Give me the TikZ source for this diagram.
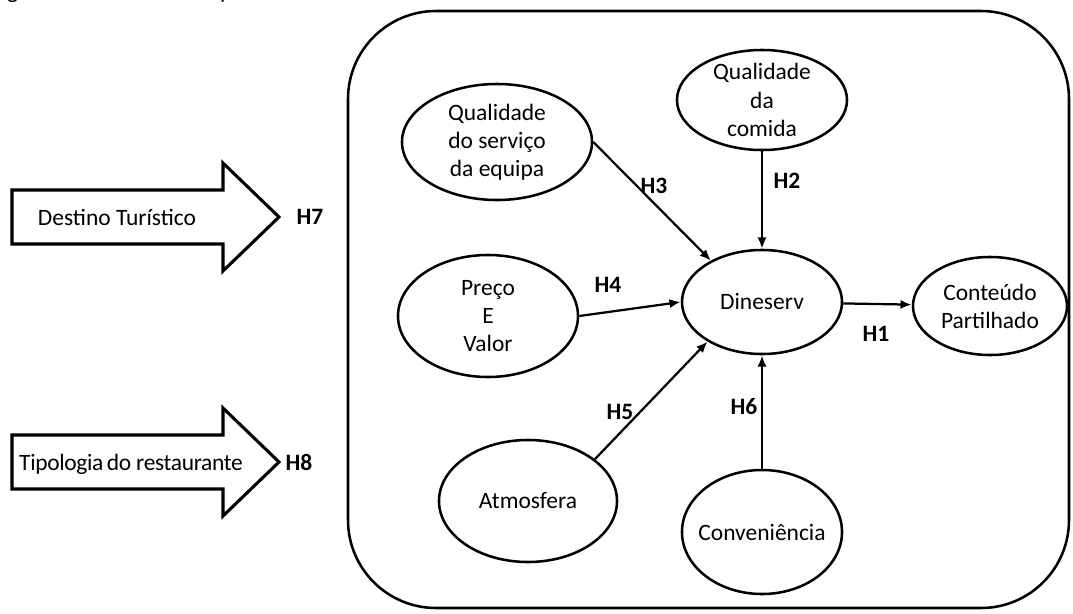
\documentclass[tikz,border=0pt]{standalone}
\usepackage{fontspec}
\setmainfont{Carlito}
\usetikzlibrary{arrows.meta,positioning,shapes.geometric}

\begin{document}
\begin{tikzpicture}[x=0.025cm,y=-0.025cm,>={Latex[length=8pt,width=6.5pt]},every node/.style={font=\fontsize{16.7}{20}\selectfont},
 var/.style={ellipse,draw,line width=1.8pt,inner sep=0pt,align=center},
 hyp/.style={font=\fontsize{16.7}{20}\selectfont\bfseries},
 link/.style={->,line width=1.6pt},
 blk/.style={draw,line width=2.2pt,line join=miter},
 frame/.style={draw,line width=1.8pt,rounded corners=2.2cm}]
\useasboundingbox (0,0) rectangle (1073,613);
\node[anchor=base west] (titulo) at (-14,-2) {Figura 3 - Modelo conceptual};
\draw[frame] (348,11) rectangle (1069,608);
% variaveis do modelo
\node[var,minimum width=4.25cm,minimum height=2.5cm,inner ysep=-3.5pt] (comida) at (762,100) {Qualidade\\da\\comida};
\node[var,minimum width=4.75cm,minimum height=2.9cm] (servico) at (497,142) {Qualidade\\do serviço\\da equipa};
\node[var,minimum width=4.5cm,minimum height=3.05cm] (preco) at (488,316) {Preço\\E\\Valor};
\node[var,minimum width=4cm,minimum height=2.6cm] (dine) at (762,302) {Dineserv};
\node[var,minimum width=3.85cm,minimum height=2.45cm] (partilha) at (990,306) {Conteúdo\\Partilhado};
\node[var,minimum width=4.45cm,minimum height=3.05cm] (atmos) at (528,501) {Atmosfera};
\node[var,minimum width=4cm,minimum height=3.1cm,inner xsep=-6pt] (conv) at (762,532) {Conveniência};
\draw[link] (comida) -- (dine);
\draw[link] (servico.east) -- (dine.141);
\draw[link] (preco.east) -- (dine.west);
\draw[link] (atmos.32) -- (dine.216);
\draw[link] (conv) -- (dine);
\draw[link] (dine) -- (partilha);
% hipoteses
\node[hyp] (h1) at (876,334) {H1};
\node[hyp] (h2) at (787,181) {H2};
\node[hyp] (h3) at (654,186) {H3};
\node[hyp] (h4) at (608,285) {H4};
\node[hyp] (h5) at (620,412) {H5};
\node[hyp] (h6) at (744,407) {H6};
\node[hyp] (h7) at (310,217) {H7};
\node[hyp] (h8) at (299,462) {H8};
% setas de moderacao
\foreach \y in {217,462}
  \draw[blk] (12,\y-27) -- (223,\y-27) -- (223,\y-54) -- (279,\y) -- (223,\y+54) -- (223,\y+27) -- (12,\y+27) -- cycle;
\node (destino) at (117,217) {Destino Turístico};
\node (tipo) at (131,464) {\addfontfeature{LetterSpace=-1.5}Tipologia\hspace{-1pt} do restaurante};
\end{tikzpicture}
\end{document}
